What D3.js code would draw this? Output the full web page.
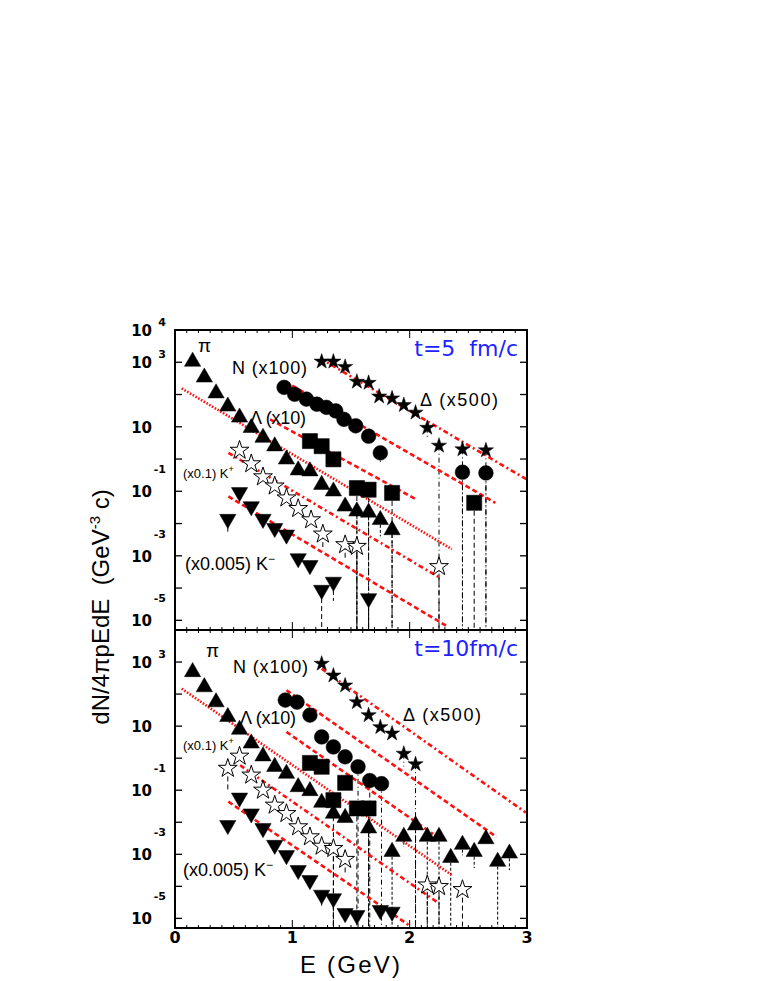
<!DOCTYPE html>
<html>
<head>
<meta charset="utf-8">
<script src="https://d3js.org/d3.v7.min.js"></script>
<style>
body { margin: 0; background: #fff; }
</style>
</head>
<body>
<div id="graph"></div>
<script>

// ---- data: E (GeV) and dN/4πpEdE values ----
// t = 5 fm/c (upper panel)
var piTopE = [0.15,0.25,0.35,0.45,0.55,0.65,0.75,0.85,0.95,1.05,1.15,1.25,1.35,1.45,1.55,1.65,1.75,1.85];
var piTopY = [1050,340,110,43,19.5,9.3,4.6,2.5,0.98,0.45,0.42,0.16,0.10,0.034,0.024,0.022,0.013,0.0063];
var piTopLo = [null,null,null,null,null,null,null,null,null,null,null,null,null,null,0,0,0.004,0];

var nTopE = [0.93,1.02,1.12,1.21,1.29,1.37,1.44,1.54,1.65,1.75,2.45,2.65];
var nTopY = [166,102,72,50,40,31,17,10.7,5.1,1.55,0.39,0.37];
var nTopLo = [null,null,null,null,null,null,null,null,null,0.7,0,0];

var dTopE = [1.25,1.35,1.45,1.55,1.65,1.74,1.85,1.95,2.05,2.15,2.25,2.45,2.65];
var dTopY = [1050,1050,720,250,230,87,76,47,27.5,9.3,2.6,2.0,1.86];
var dTopLo = [null,null,null,null,null,null,null,null,null,4.6,0,0,0];

var lTopE = [1.15,1.25,1.35,1.55,1.65,1.85,2.55];
var lTopY = [3.6,2.5,0.98,0.126,0.112,0.089,0.044];
var lTopLo = [null,null,null,0,0,0,0];

var kpTopE = [0.55,0.65,0.75,0.85,0.95,1.05,1.16,1.26,1.45,1.55,2.25];
var kpTopY = [1.86,0.71,0.28,0.145,0.062,0.029,0.013,0.0047,0.0022,0.00195,0.00046];
var kpTopLo = [null,null,null,null,null,null,null,0.0018,0.00074,0,0];

var kmTopE = [0.45,0.55,0.65,0.75,0.85,0.95,1.05,1.15,1.25,1.35,1.65];
var kmTopY = [0.0138,0.093,0.034,0.0138,0.0072,0.0045,0.00083,0.00051,8.7e-5,1.55e-4,4.8e-5];
var kmTopLo = [0.0056,null,null,null,null,null,null,null,0,4e-5,0];

// t = 10 fm/c (lower panel)
var piBotE = [0.15,0.25,0.35,0.45,0.55,0.65,0.75,0.85,0.95,1.05,1.15,1.25,1.35,1.45,1.65,1.85,1.95,2.05,2.15,2.25,2.35,2.45,2.55,2.65,2.75,2.85];
var piBotY = [490,166,56,19.5,7.8,2.9,1.15,0.54,0.33,0.126,0.095,0.041,0.0186,0.0138,0.0065,0.0012,0.00355,0.0081,0.00355,0.00355,0.00078,0.002,0.0012,0.003,0.00059,0.00107];
var piBotLo = [null,null,null,null,null,null,null,null,null,null,null,null,null,null,0,0,0.0017,0,0,0,0,0.00093,0.00037,null,0,0.00032];

var nBotE = [0.94,1.04,1.15,1.25,1.35,1.45,1.56,1.66,1.76];
var nBotY = [65,56,22,4.6,2.24,1.1,0.54,0.2,0.16];
var nBotLo = [null,null,null,null,null,null,0,0,0];

var dBotE = [1.25,1.35,1.45,1.55,1.65,1.75,1.85,1.95,2.05];
var dBotY = [890,380,186,56,22,9.3,5.9,1.38,0.65];
var dBotLo = [null,null,null,null,null,null,null,0.55,0];

var lBotE = [1.15,1.25,1.35,1.45,1.55,1.65];
var lBotY = [0.71,0.54,0.049,0.17,0.027,0.027];
var lBotLo = [null,null,0,null,0,0];

var kpBotE = [0.45,0.55,0.65,0.75,0.85,0.95,1.05,1.15,1.25,1.35,1.45,2.15,2.25,2.45];
var kpBotY = [0.48,1.15,0.295,0.1,0.034,0.0186,0.0072,0.0035,0.00178,0.00151,0.00069,0.00011,9.8e-5,7.9e-5];
var kpBotLo = [0.1,null,null,null,null,null,null,null,null,0,0.00025,0,0,0];

var kmBotE = [0.45,0.55,0.65,0.75,0.85,0.95,1.05,1.15,1.25,1.35,1.45,1.55,1.75,1.85];
var kmBotY = [0.0081,0.058,0.0186,0.0065,0.00195,0.00093,0.00032,0.000155,5.4e-5,4.2e-5,1.45e-5,1.26e-5,1.8e-5,1.6e-5];
var kmBotLo = [null,null,null,null,null,null,null,null,2.5e-5,0,null,null,null,null];

// exponential fits (red): [E start, E end] and [value start, value end]
var fitKinds = ["pi","N","D","L","Kp","Km"];
var fitTopE = [[0.057,2.36],[0.94,2.73],[1.237,3.0],[0.81,2.06],[0.455,2.246],[0.455,2.33]];
var fitTopY = [[155,1.6e-3],[250,0.044],[1320,0.23],[17,0.055],[1.55,2.2e-4],[0.069,6.2e-6]];
var fitBotE = [[0.057,2.36],[0.95,2.74],[1.25,2.99],[0.95,2.2],[0.555,2.23],[0.455,1.99]];
var fitBotY = [[148,2.24e-4],[132,3.5e-3],[617,0.02],[6.6,4.3e-3],[0.6,3.3e-5],[0.044,6.3e-6]];

var tickExpTop = [4,3,1,-1,-3,-5];
var tickExpBot = [3,1,-1,-3,-5];
var xTickLabels = ["0","1","2","3"];

// ---- drawing ----
var w = 758, h = 981;
var svg = d3.select("#graph").append("svg")
  .attr("width", w).attr("height", h)
  .style("font-family", "'Liberation Sans', Arial, sans-serif");

var x = d3.scaleLinear().domain([0, 3]).range([175, 527]);

var style = {
  pi: {type: d3.symbolTriangle, size: 115, fill: "#000", rot: 0, drop: "3,2"},
  N:  {type: d3.symbolCircle, size: 170, fill: "#000", rot: 0, drop: "5,3,1,3"},
  D:  {type: d3.symbolStar, size: 72, fill: "#000", rot: 0, drop: "5,3,1,3"},
  L:  {type: d3.symbolSquare, size: 230, fill: "#000", rot: 0, drop: "5,3"},
  Kp: {type: d3.symbolStar, size: 110, fill: "#fff", rot: 0, drop: "5,3"},
  Km: {type: d3.symbolTriangle, size: 115, fill: "#000", rot: 180, drop: "5,3"}
};
var fitDash = {pi: "1.6,1.6", N: "5,3", D: "5,3,2,3", L: "5,3", Kp: "5,3,2,3", Km: "5,3"};

var panels = [
  {top: 330, bottom: 630, ticks: tickExpTop, title: "t=5  fm/c",
   series: [["pi",piTopE,piTopY,piTopLo],["L",lTopE,lTopY,lTopLo],["N",nTopE,nTopY,nTopLo],
            ["D",dTopE,dTopY,dTopLo],["Kp",kpTopE,kpTopY,kpTopLo],["Km",kmTopE,kmTopY,kmTopLo]],
   fitE: fitTopE, fitY: fitTopY,
   labels: {pi:[198,352], N:[232,374], D:[420,406], L:[250,424], Kp:[183,478], Km:[185,570]}},
  {top: 630, bottom: 928, ticks: tickExpBot, title: "t=10fm/c",
   series: [["pi",piBotE,piBotY,piBotLo],["L",lBotE,lBotY,lBotLo],["N",nBotE,nBotY,nBotLo],
            ["D",dBotE,dBotY,dBotLo],["Kp",kpBotE,kpBotY,kpBotLo],["Km",kmBotE,kmBotY,kmBotLo]],
   fitE: fitBotE, fitY: fitBotY,
   labels: {pi:[206,657], N:[233,673], D:[403,721], L:[240,724], Kp:[183,750], Km:[183,876]}}
];

panels.forEach(function(p, pi) {
  var y = d3.scaleLog().domain([Math.pow(10, -5.3), 1e4]).range([p.bottom, p.top]);
  var g = svg.append("g");

  g.append("clipPath").attr("id", "clip" + pi)
    .append("rect").attr("x", x(0)).attr("y", p.top).attr("width", x(3) - x(0)).attr("height", p.bottom - p.top);

  // drop lines (error bars down)
  p.series.forEach(function(s) {
    var st = style[s[0]];
    s[1].forEach(function(e, i) {
      var lo = s[3][i];
      if (lo === null) return;
      var yEnd = lo === 0 ? p.bottom : y(lo);
      g.append("line")
        .attr("x1", x(e)).attr("x2", x(e))
        .attr("y1", y(s[2][i])).attr("y2", yEnd)
        .attr("stroke", "#000").attr("stroke-width", 1)
        .attr("stroke-dasharray", st.drop);
    });
  });

  // red fit lines
  var fits = g.append("g").attr("clip-path", "url(#clip" + pi + ")");
  fitKinds.forEach(function(k, i) {
    fits.append("line")
      .attr("x1", x(p.fitE[i][0])).attr("x2", x(p.fitE[i][1]))
      .attr("y1", y(p.fitY[i][0])).attr("y2", y(p.fitY[i][1]))
      .attr("stroke", "#ff1010").attr("stroke-width", 2.6)
      .attr("stroke-dasharray", fitDash[k]);
  });

  // markers
  p.series.forEach(function(s) {
    var st = style[s[0]];
    var path = d3.symbol().type(st.type).size(st.size)();
    g.selectAll(null)
      .data(s[1].map(function(e, i) { return [e, s[2][i]]; }))
      .enter()
      .append("path")
      .attr("d", path)
      .attr("transform", function(d) {
        return "translate(" + x(d[0]) + "," + y(d[1]) + ") rotate(" + st.rot + ")";
      })
      .attr("fill", st.fill)
      .attr("stroke", "#000")
      .attr("stroke-width", s[0] === "Kp" ? 1 : 0.5);
  });

  // frame
  g.append("rect")
    .attr("x", x(0)).attr("y", p.top)
    .attr("width", x(3) - x(0)).attr("height", p.bottom - p.top)
    .attr("fill", "none").attr("stroke", "#000").attr("stroke-width", 2);

  // y ticks (each decade, both sides)
  d3.range(-5, 5).forEach(function(ex) {
    var yy = y(Math.pow(10, ex));
    if (yy < p.top + 1) return;
    g.append("line").attr("x1", x(0)).attr("x2", x(0) + 7).attr("y1", yy).attr("y2", yy)
      .attr("stroke", "#000").attr("stroke-width", 1.3);
    g.append("line").attr("x1", x(3)).attr("x2", x(3) - 7).attr("y1", yy).attr("y2", yy)
      .attr("stroke", "#000").attr("stroke-width", 1.3);
  });

  // x ticks (top and bottom of each panel)
  d3.range(0, 31).forEach(function(k) {
    var xx = x(k / 10);
    var len = k % 10 === 0 ? 8 : 3;
    g.append("line").attr("x1", xx).attr("x2", xx).attr("y1", p.bottom).attr("y2", p.bottom - len)
      .attr("stroke", "#000").attr("stroke-width", 1);
    g.append("line").attr("x1", xx).attr("x2", xx).attr("y1", p.top).attr("y2", p.top + len)
      .attr("stroke", "#000").attr("stroke-width", 1);
  });

  // y tick labels
  p.ticks.forEach(function(ex) {
    var yy = y(Math.pow(10, ex));
    g.append("text").text("10")
      .attr("x", 152).attr("y", yy + 6)
      .attr("text-anchor", "end")
      .style("font-family", "'DejaVu Sans', sans-serif")
      .style("font-weight", "bold").style("font-size", "15px");
    if (ex !== 1) {
      g.append("text").text(ex < 0 ? "-" + (-ex) : String(ex))
        .attr("x", 166).attr("y", ex < 0 ? yy - 18 : yy - 4)
        .attr("text-anchor", "end")
        .style("font-family", "'DejaVu Sans', sans-serif")
        .style("font-weight", "bold").style("font-size", "11px");
    }
  });

  // species labels
  var L = p.labels;
  g.append("text").attr("x", L.pi[0]).attr("y", L.pi[1]).text("π").style("font-size", "19px");
  g.append("text").attr("x", L.N[0]).attr("y", L.N[1]).text("N (x100)")
    .style("font-size", "18px").attr("textLength", 75).attr("lengthAdjust", "spacing");
  g.append("text").attr("x", L.D[0]).attr("y", L.D[1]).text("Δ (x500)")
    .style("font-size", "18px").attr("textLength", 78).attr("lengthAdjust", "spacing");
  g.append("text").attr("x", L.L[0]).attr("y", L.L[1]).text("Λ (x10)")
    .style("font-size", "18px").attr("textLength", 56).attr("lengthAdjust", "spacing");
  var kp = g.append("text").attr("x", L.Kp[0]).attr("y", L.Kp[1]).style("font-size", "13px");
  kp.append("tspan").text("(x0.1) K");
  kp.append("tspan").text("+").attr("dy", -6).style("font-size", "9px");
  var km = g.append("text").attr("x", L.Km[0]).attr("y", L.Km[1]).style("font-size", "18px");
  km.append("tspan").text("(x0.005) K");
  km.append("tspan").text("−").attr("dy", -7).style("font-size", "12px");

  g.append("text").attr("x", 518).attr("y", p.top + 26).text(p.title)
    .attr("text-anchor", "end").attr("xml:space", "preserve")
    .style("white-space", "pre")
    .attr("fill", "#2222ff").style("font-size", "22px")
    .style("font-family", "'DejaVu Sans', sans-serif");
});

// x tick labels
xTickLabels.forEach(function(t, i) {
  svg.append("text").text(t)
    .attr("x", x(i)).attr("y", 943)
    .attr("text-anchor", "middle")
    .style("font-family", "'DejaVu Sans', sans-serif")
    .style("font-weight", "bold").style("font-size", "16px");
});

// axis titles
svg.append("text").text("E (GeV)")
  .attr("x", 300).attr("y", 973)
  .attr("textLength", 100).attr("lengthAdjust", "spacing")
  .style("font-size", "24px");

var yt = svg.append("text")
  .attr("transform", "translate(109,607) rotate(-90)")
  .attr("text-anchor", "middle")
  .attr("xml:space", "preserve")
  .style("white-space", "pre")
  .style("font-size", "24px");
yt.append("tspan").text("dN/4πpEdE  (GeV");
yt.append("tspan").text("-3").attr("dy", -9).style("font-size", "15px");
yt.append("tspan").text(" c)").attr("dy", 9);

</script>
</body>
</html>
